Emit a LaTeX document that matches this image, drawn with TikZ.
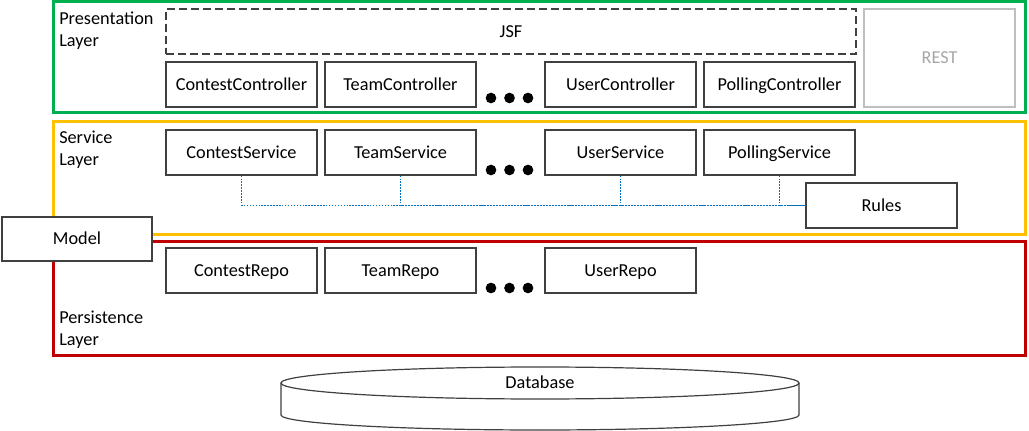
\documentclass[tikz,border=0pt]{standalone}
\usepackage{fontspec}
\setmainfont{Carlito}
\definecolor{boxgray}{HTML}{404040}
\definecolor{lgreen}{HTML}{00B050}
\definecolor{lyellow}{HTML}{FFC000}
\definecolor{lred}{HTML}{C00000}
\definecolor{restgray}{HTML}{BFBFBF}
\definecolor{resttext}{HTML}{A6A6A6}
\definecolor{linkblue}{HTML}{0070C0}
\begin{document}
\begin{tikzpicture}[x=0.75pt,y=-0.75pt,
  every node/.style={font=\fontsize{13.7}{16.5}\selectfont, text height=8.7pt, text depth=0pt},
  layer/.style={draw=#1, line width=2.25pt, minimum width=729pt, inner sep=0pt},
  comp/.style={draw=boxgray, line width=0.9pt, fill=white, minimum width=113.25pt, minimum height=33.75pt, inner sep=0pt},
  lbl/.style={anchor=base west, inner sep=0pt, align=left, text height=, text depth=},
  dotbullet/.style={fill=black},
  conn/.style={draw=linkblue, line width=1pt, dash pattern=on 1.1pt off 1.1pt}]
\useasboundingbox (0,0) rectangle (1029,431);

% layers
\node[layer=lgreen, minimum height=83.25pt] (pres) at (539,57.5) {};
\node[layer=lyellow, minimum height=84.75pt] (serv) at (539,178.5) {};
\node[layer=lred, minimum height=84.75pt] (pers) at (539,298.5) {};

\node[lbl] (preslbl) at (59,46.5) {Presentation\\Layer};
\node[lbl] (servlbl) at (59,166) {Service\\Layer};
\node[lbl] (perslbl) at (59,345.5) {Persistence\\Layer};

% presentation
\node[draw=boxgray, line width=0.9pt, dash pattern=on 6pt off 3pt, minimum width=517.5pt, minimum height=33.75pt, inner sep=0pt] (jsf) at (511,31.5) {JSF};
\node[draw=restgray, line width=0.9pt, text=resttext, minimum width=113.25pt, minimum height=73.5pt, inner sep=0pt] (rest) at (939.5,58) {REST};
\node[comp] (cc) at (241.5,84.5) {ContestController};
\node[comp] (tc) at (400.5,84.5) {TeamController};
\node[comp] (uc) at (620.5,84.5) {UserController};
\node[comp] (pc) at (779.5,84.5) {PollingController};
\fill[dotbullet] (491,98) circle[radius=4pt] (509.5,98) circle[radius=4pt] (528,98) circle[radius=4pt];

% service
\node[comp] (cs) at (241.5,152.5) {ContestService};
\node[comp] (ts) at (400.5,152.5) {TeamService};
\node[comp] (us) at (620.5,152.5) {UserService};
\node[comp] (ps) at (779.5,152.5) {PollingService};
\node[comp] (rules) at (881.5,205.5) {Rules};
\fill[dotbullet] (491,170) circle[radius=4pt] (509.5,170) circle[radius=4pt] (528,170) circle[radius=4pt];
\draw[conn] (cs.south) |- (rules.west);
\draw[conn] (ts.south) |- (rules.west);
\draw[conn] (us.south) |- (rules.west);
\draw[conn] (ps.south) |- (rules.west);

% persistence
\node[comp] (cr) at (241.5,270.5) {ContestRepo};
\node[comp] (tr) at (400.5,270.5) {TeamRepo};
\node[comp] (ur) at (620.5,270.5) {UserRepo};
\fill[dotbullet] (491,288) circle[radius=4pt] (509.5,288) circle[radius=4pt] (528,288) circle[radius=4pt];

% model
\node[comp, minimum width=112.5pt, minimum height=33pt] (model) at (77,239) {Model};

% database
\draw[boxgray, line width=0.9pt, fill=white] (281,383) -- (281,415) arc[start angle=180, end angle=360, x radius=194.25pt, y radius=11.25pt] -- (799,383);
\draw[boxgray, line width=0.9pt, fill=white] (540,383) ellipse[x radius=194.25pt, y radius=12pt];
\node[inner sep=0pt] (db) at (540,383) {Database};
\end{tikzpicture}
\end{document}
